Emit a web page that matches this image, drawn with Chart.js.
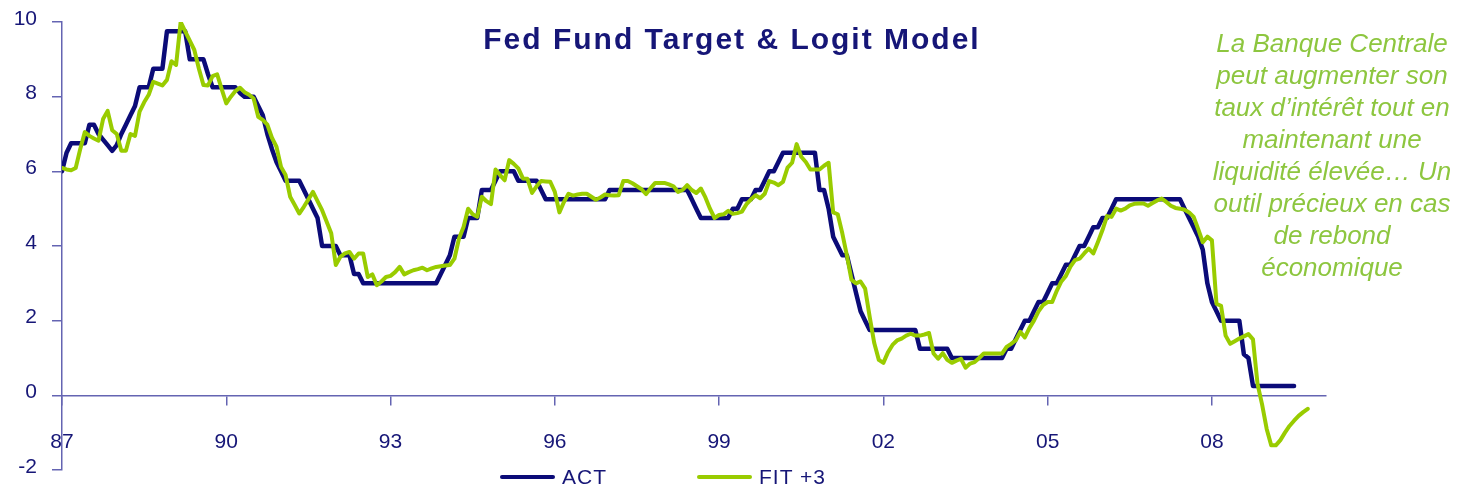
<!DOCTYPE html>
<html>
<head>
<meta charset="utf-8">
<script src="https://cdn.jsdelivr.net/npm/chart.js@4.4.1/dist/chart.umd.min.js"></script>
<style>
    html, body { margin: 0; padding: 0; background: #fff; }
    #wrap { position: relative; width: 1462px; height: 488px; overflow: hidden; }
    #chart { position: absolute; left: 0; top: 0; }
    .title {
        position: absolute; left: 0; top: 24px; width: 1464px; text-align: center;
        font: bold 30px/30px 'Liberation Sans', Arial, sans-serif;
        letter-spacing: 2px; color: #161677; white-space: nowrap;
    }
    .note {
        position: absolute; left: 1202px; top: 27px; width: 260px; text-align: center;
        font: italic 26px/32px 'Liberation Sans', Arial, sans-serif;
        color: #8dc63f; white-space: nowrap;
    }
    .key { position: absolute; top: 463px; height: 28px; display: flex; align-items: center; }
    .key i { display: block; width: 55px; height: 4.5px; border-radius: 2px; margin-right: 7px; }
    .key span { font: 21px 'Liberation Sans', Arial, sans-serif; letter-spacing: 1px; color: #161677; }
</style>
</head>
<body>
<div id="wrap">
    <canvas id="chart" width="1462" height="488"></canvas>
    <div class="title">Fed Fund Target &amp; Logit Model</div>
    <div class="note">La Banque Centrale<br>peut augmenter son<br>taux d’intérêt tout en<br>maintenant une<br>liquidité élevée… Un<br>outil précieux en cas<br>de rebond<br>économique</div>
    <div class="key" style="left:500px"><i style="background:#0b0b78"></i><span>ACT</span></div>
    <div class="key" style="left:697px"><i style="background:#99cc00"></i><span>FIT +3</span></div>
</div>
<script>
/* Monthly Fed Funds target (ACT) and logit model fit shifted 3 months (FIT +3),
   one row per year starting January 1987. */
const actValues = [
    6.0, 6.5, 6.75, 6.75, 6.75, 6.75, 7.25, 7.25, 7.0, 6.85, 6.7, 6.55,
    6.7, 7.0, 7.25, 7.5, 7.75, 8.25, 8.25, 8.25, 8.75, 8.75, 8.75, 9.75,
    9.75, 9.75, 9.75, 9.75, 9.0, 9.0, 9.0, 9.0, 8.6, 8.25, 8.25, 8.25,
    8.25, 8.25, 8.25, 8.1, 8.0, 8.0, 8.0, 7.75, 7.5, 7.0, 6.6, 6.25,
    6.0, 5.75, 5.75, 5.75, 5.75, 5.5, 5.25, 5.0, 4.75, 4.0, 4.0, 4.0,
    4.0, 3.75, 3.75, 3.75, 3.25, 3.25, 3.0, 3.0, 3.0, 3.0, 3.0, 3.0,
    3.0, 3.0, 3.0, 3.0, 3.0, 3.0, 3.0, 3.0, 3.0, 3.0, 3.0, 3.25,
    3.5, 3.75, 4.25, 4.25, 4.25, 4.75, 4.75, 4.75, 5.5, 5.5, 5.5, 5.75,
    6.0, 6.0, 6.0, 6.0, 5.75, 5.75, 5.75, 5.75, 5.75, 5.5, 5.25, 5.25,
    5.25, 5.25, 5.25, 5.25, 5.25, 5.25, 5.25, 5.25, 5.25, 5.25, 5.25, 5.25,
    5.5, 5.5, 5.5, 5.5, 5.5, 5.5, 5.5, 5.5, 5.5, 5.5, 5.5, 5.5,
    5.5, 5.5, 5.5, 5.5, 5.5, 5.5, 5.25, 5.0, 4.75, 4.75, 4.75, 4.75,
    4.75, 4.75, 4.75, 5.0, 5.0, 5.25, 5.25, 5.25, 5.5, 5.5, 5.75, 6.0,
    6.0, 6.25, 6.5, 6.5, 6.5, 6.5, 6.5, 6.5, 6.5, 6.5, 5.5, 5.5,
    5.0, 4.25, 4.0, 3.75, 3.75, 3.25, 2.75, 2.25, 2.0, 1.75, 1.75, 1.75,
    1.75, 1.75, 1.75, 1.75, 1.75, 1.75, 1.75, 1.75, 1.25, 1.25, 1.25, 1.25,
    1.25, 1.25, 1.25, 1.0, 1.0, 1.0, 1.0, 1.0, 1.0, 1.0, 1.0, 1.0,
    1.0, 1.0, 1.0, 1.25, 1.25, 1.5, 1.75, 2.0, 2.0, 2.25, 2.5, 2.5,
    2.75, 3.0, 3.0, 3.25, 3.5, 3.5, 3.75, 4.0, 4.0, 4.25, 4.5, 4.5,
    4.75, 4.75, 5.0, 5.25, 5.25, 5.25, 5.25, 5.25, 5.25, 5.25, 5.25, 5.25,
    5.25, 5.25, 5.25, 5.25, 5.25, 5.25, 5.0, 4.75, 4.5, 4.25, 3.9, 3.0,
    2.5, 2.25, 2.0, 2.0, 2.0, 2.0, 2.0, 1.1, 1.0, 0.25, 0.25, 0.25,
    0.25, 0.25, 0.25, 0.25, 0.25, 0.25, 0.25
];

const fitValues = [
    6.09, 6.05, 6.03, 6.09, 6.6, 7.05, 6.95, 6.88, 6.82, 7.4, 7.62, 7.1,
    7.0, 6.55, 6.55, 7.0, 6.95, 7.6, 7.85, 8.05, 8.4, 8.35, 8.3, 8.45,
    8.95, 8.85, 10.0, 9.75, 9.5, 9.25, 8.75, 8.31, 8.3, 8.55, 8.6, 8.2,
    7.82, 8.0, 8.15, 8.24, 8.12, 8.05, 7.95, 7.46, 7.38, 7.25, 6.9, 6.66,
    6.12, 5.9, 5.32, 5.1, 4.87, 5.05, 5.25, 5.45, 5.2, 4.96, 4.65, 4.34,
    3.49, 3.71, 3.8, 3.84, 3.66, 3.8, 3.8, 3.17, 3.24, 2.95, 3.05, 3.17,
    3.2, 3.3, 3.44, 3.24, 3.3, 3.35, 3.38, 3.42, 3.35, 3.4, 3.44, 3.46,
    3.48, 3.49, 3.66, 4.2, 4.51, 5.0, 4.85, 4.78, 5.32, 5.2, 5.12, 6.05,
    5.9, 5.76, 6.3, 6.2, 6.08, 5.81, 5.8, 5.42, 5.6, 5.74, 5.73, 5.72,
    5.45, 4.9, 5.18, 5.4, 5.35, 5.38, 5.4, 5.4, 5.32, 5.24, 5.3, 5.38,
    5.36, 5.35, 5.36, 5.74, 5.74, 5.68, 5.6, 5.52, 5.39, 5.55, 5.69, 5.69,
    5.69, 5.65, 5.6, 5.45, 5.5, 5.63, 5.5, 5.42, 5.54, 5.3, 5.0, 4.75,
    4.83, 4.85, 4.94, 4.86, 4.88, 4.92, 5.12, 5.25, 5.36, 5.28, 5.4, 5.74,
    5.7, 5.63, 5.72, 6.1, 6.23, 6.73, 6.39, 6.25, 6.05, 6.05, 6.05, 6.15,
    6.23, 4.9, 4.85, 4.34, 3.75, 3.1, 3.0, 3.05, 2.86, 2.1, 1.4, 0.95,
    0.87, 1.15, 1.35, 1.47, 1.52, 1.6, 1.65, 1.6, 1.6, 1.63, 1.67, 1.12,
    0.98, 1.13, 0.95, 0.87, 0.93, 0.98, 0.74, 0.85, 0.89, 1.0, 1.12, 1.12,
    1.12, 1.12, 1.12, 1.3, 1.38, 1.47, 1.7, 1.55, 1.8, 2.0, 2.25, 2.42,
    2.5, 2.5, 2.8, 3.05, 3.2, 3.45, 3.62, 3.66, 3.8, 3.93, 3.8, 4.1,
    4.42, 4.8, 4.78, 5.0, 4.95, 5.0, 5.09, 5.13, 5.14, 5.14, 5.08, 5.15,
    5.22, 5.27, 5.18, 5.08, 5.02, 5.0, 4.97, 4.9, 4.78, 4.45, 4.1, 4.25,
    4.15, 2.45, 2.4, 1.6, 1.38, 1.45, 1.52, 1.58, 1.64, 1.5, 0.3, -0.25,
    -0.9, -1.34, -1.34, -1.2, -1.0, -0.82, -0.68, -0.55, -0.45, -0.36
];

// x position = months since Jan 1987
const months = fitValues.map((_, i) => i);
const yearTicks = [0, 36, 72, 108, 144, 180, 216, 252];
const yearLabels = ['87', '90', '93', '96', '99', '02', '05', '08'];

const navy = '#0b0b78';
const lime = '#99cc00';
const axisColor = '#6464b2';
const labelColor = '#161677';
const labelFont = { family: "'Liberation Sans', Arial, sans-serif", size: 21 };

new Chart(document.getElementById('chart'), {
    type: 'line',
    data: {
        labels: months,
        datasets: [
            { label: 'ACT', data: actValues, borderColor: navy, borderWidth: 4.5, order: 1 },
            { label: 'FIT +3', data: fitValues, borderColor: lime, borderWidth: 4, order: 0 }
        ]
    },
    options: {
        responsive: false,
        animation: false,
        devicePixelRatio: 1,
        layout: { padding: { left: 0, top: 22, right: 136, bottom: 18 } },
        elements: {
            point: { radius: 0 },
            line: { tension: 0, borderJoinStyle: 'round', borderCapStyle: 'round', fill: false }
        },
        plugins: { legend: { display: false }, tooltip: { enabled: false } },
        scales: {
            x: {
                type: 'linear',
                min: 0,
                max: 277,
                position: { y: 0 },
                afterBuildTicks: s => { s.ticks = yearTicks.map(v => ({ value: v })); },
                ticks: {
                    callback: (v, i) => yearLabels[i],
                    color: labelColor, font: labelFont, padding: 25,
                    maxRotation: 0, autoSkip: false
                },
                grid: { drawOnChartArea: false, tickLength: 9, color: axisColor, lineWidth: 1.5 },
                border: { color: axisColor, width: 1.5 }
            },
            y: {
                min: -2,
                max: 10,
                // fixed gutter; drop the label overhang so the plot spans 22..470
                afterFit: s => { s.width = 62; s.paddingTop = 0; s.paddingBottom = 0; },
                ticks: { stepSize: 2, color: labelColor, font: labelFont, padding: 15, labelOffset: -3 },
                grid: { drawOnChartArea: false, tickLength: 10, color: axisColor, lineWidth: 1.5 },
                border: { color: axisColor, width: 1.5 }
            }
        }
    }
});
</script>
</body>
</html>
